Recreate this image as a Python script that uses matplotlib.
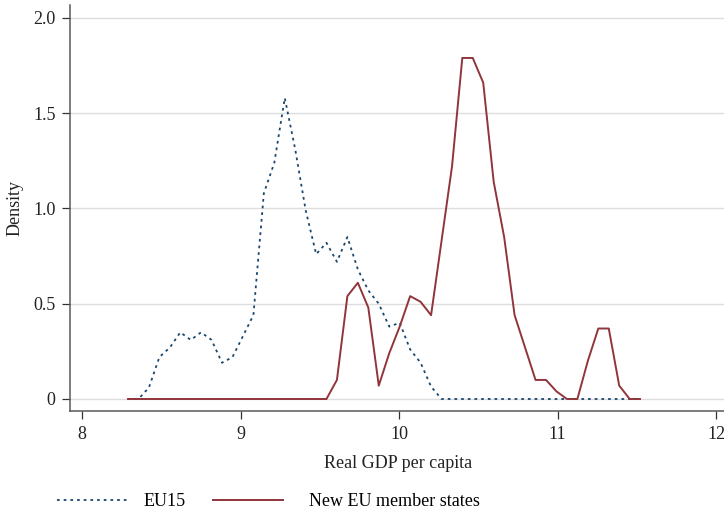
import matplotlib
matplotlib.use("Agg")
import matplotlib.pyplot as plt

plt.rcParams['font.family'] = ['Liberation Serif', 'DejaVu Serif']

# evaluation grid of the density estimates (log real GDP per capita)
gdp = [8.290, 8.356, 8.422, 8.488, 8.554, 8.620, 8.686, 8.751, 8.817, 8.883,
       8.949, 9.015, 9.081, 9.147, 9.213, 9.279, 9.345, 9.411, 9.477, 9.542,
       9.608, 9.674, 9.740, 9.806, 9.872, 9.938, 10.004, 10.070, 10.136, 10.202,
       10.268, 10.334, 10.399, 10.465, 10.531, 10.597, 10.663, 10.729, 10.795, 10.861,
       10.927, 10.993, 11.059, 11.125, 11.191, 11.257, 11.323, 11.389, 11.455, 11.520]

eu15 = [0.0, 0.0, 0.06, 0.22, 0.27, 0.35, 0.31, 0.35, 0.31, 0.19,
        0.22, 0.33, 0.44, 1.08, 1.24, 1.58, 1.31, 0.99, 0.76, 0.82,
        0.72, 0.85, 0.68, 0.57, 0.50, 0.38, 0.40, 0.26, 0.19, 0.065,
        0.0, 0.0, 0.0, 0.0, 0.0, 0.0, 0.0, 0.0, 0.0, 0.0,
        0.0, 0.0, 0.0, 0.0, 0.0, 0.0, 0.0, 0.0, 0.0, 0.0]

new_eu = [0.0, 0.0, 0.0, 0.0, 0.0, 0.0, 0.0, 0.0, 0.0, 0.0,
          0.0, 0.0, 0.0, 0.0, 0.0, 0.0, 0.0, 0.0, 0.0, 0.0,
          0.10, 0.54, 0.61, 0.48, 0.07, 0.24, 0.38, 0.54, 0.51, 0.44,
          0.83, 1.22, 1.79, 1.79, 1.66, 1.14, 0.85, 0.44, 0.27, 0.10,
          0.10, 0.04, 0.0, 0.0, 0.20, 0.37, 0.37, 0.07, 0.0, 0.0]

xticks = [8, 9, 10, 11, 12]
yticks = [0, 0.5, 1.0, 1.5, 2.0]
ytick_labels = ['0', '0.5', '1.0', '1.5', '2.0']

navy = '#1a476f'
maroon = '#90353b'
axis_grey = '#595959'
fs = 13

fig = plt.figure(figsize=(7.24, 5.14), dpi=100)
ax = fig.add_axes([70 / 724, 1 - 411 / 514, 654 / 724, 406 / 514])

for y in yticks:
    ax.axhline(y, color='#dedede', lw=1.0, zorder=0)

l1, = ax.plot(gdp, eu15, color=navy, lw=1.3, linestyle=(0, (1.5, 2.2)), label='EU15')
l2, = ax.plot(gdp, new_eu, color=maroon, lw=1.4, label='New EU member states')

ax.set_xlim(7.924, 12.05)
ax.set_ylim(-0.063, 2.068)
ax.set_xticks(xticks)
ax.set_yticks(yticks)
ax.set_yticklabels(ytick_labels)

for s in ['top', 'right']:
    ax.spines[s].set_visible(False)
for s in ['left', 'bottom']:
    ax.spines[s].set_color(axis_grey)
    ax.spines[s].set_linewidth(1.1)
ax.tick_params(axis='both', direction='out', length=5.5, width=0.9,
               color='#333333', labelsize=fs, labelcolor='#222222', pad=5)

fig.text(398 / 724, 1 - 463 / 514, 'Real GDP per capita', ha='center', va='center',
         fontsize=fs, color='#222222')
fig.text(15 / 724, 1 - 208 / 514, 'Density', ha='center', va='center',
         rotation=90, fontsize=fs, color='#222222')

# two legend entries placed separately (key columns have fixed widths)
leg_y = 1 - 502 / 514
fig.legend(handles=[l1], loc='center left', bbox_to_anchor=(57 / 724, leg_y),
           frameon=False, fontsize=fs, handlelength=3.9, handletextpad=0.89,
           borderpad=0, borderaxespad=0)
fig.legend(handles=[l2], loc='center left', bbox_to_anchor=(213 / 724, leg_y),
           frameon=False, fontsize=fs, handlelength=3.9, handletextpad=1.44,
           borderpad=0, borderaxespad=0)

fig.savefig('out.png', dpi=100)
